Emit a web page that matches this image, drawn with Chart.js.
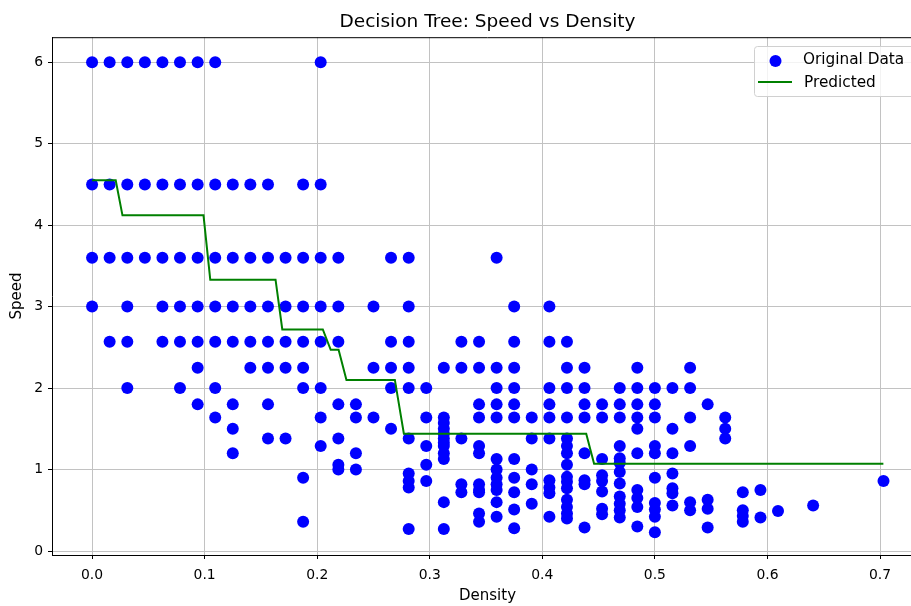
<!DOCTYPE html>
<html>
<head>
<meta charset="utf-8">
<script src="https://cdn.jsdelivr.net/npm/chart.js@4.4.0/dist/chart.umd.min.js"></script>
<style>
  html, body { margin: 0; padding: 0; background: #fff; overflow: hidden; }
</style>
</head>
<body>
<!-- canvas a bit wider than the window: the axes run past the right edge of the picture -->
<canvas id="tree-chart" width="929" height="606"></canvas>
<script>
// density columns and the speeds observed at each of them
const colDensity = [0, 0.0156, 0.0313, 0.0469, 0.0625, 0.0781, 0.0938, 0.1094, 0.125, 0.1406,
  0.1563, 0.1719, 0.1875, 0.2031, 0.2188, 0.2344, 0.25, 0.2656, 0.2813, 0.2969,
  0.3125, 0.3281, 0.3438, 0.3594, 0.375, 0.3906, 0.4063, 0.4219, 0.4375, 0.4531,
  0.4688, 0.4844, 0.5, 0.5156, 0.5313, 0.5469, 0.5625, 0.5781, 0.5938, 0.6094,
  0.6406, 0.7031];
const colSpeed = [
  [6, 4.5, 3.6, 3],
  [6, 4.5, 3.6, 2.57],
  [6, 4.5, 3.6, 3, 2.57, 2],
  [6, 4.5, 3.6],
  [6, 4.5, 3.6, 3, 2.57],
  [6, 4.5, 3.6, 3, 2.57, 2],
  [6, 4.5, 3.6, 3, 2.57, 2.25, 1.8],
  [6, 4.5, 3.6, 3, 2.57, 2, 1.64],
  [4.5, 3.6, 3, 2.57, 1.8, 1.5, 1.2],
  [4.5, 3.6, 3, 2.57, 2.25],
  [4.5, 3.6, 3, 2.57, 2.25, 1.8, 1.38],
  [3.6, 3, 2.57, 2.25, 1.38],
  [4.5, 3.6, 3, 2.57, 2.25, 2, 0.9, 0.36],
  [6, 4.5, 3.6, 3, 2.57, 2, 1.64, 1.29],
  [3.6, 3, 2.57, 1.8, 1.38, 1.06, 1],
  [1.8, 1.64, 1.2, 1],
  [3, 2.25, 1.64],
  [3.6, 2.57, 2.25, 2, 1.5],
  [3.6, 3, 2.57, 2.25, 2, 1.38, 0.95, 0.86, 0.78, 0.27],
  [2, 1.64, 1.29, 1.06, 0.86],
  [2.25, 1.64, 1.57, 1.5, 1.44, 1.38, 1.33, 1.29, 1.2, 1.13, 0.6, 0.27],
  [2.57, 2.25, 1.38, 0.82, 0.72],
  [2.57, 2.25, 1.8, 1.64, 1.29, 1.2, 0.82, 0.75, 0.72, 0.46, 0.36],
  [3.6, 2.25, 2, 1.8, 1.64, 1.13, 1, 0.9, 0.82, 0.75, 0.6, 0.42],
  [3, 2.57, 2.25, 2, 1.8, 1.64, 1.13, 0.9, 0.72, 0.51, 0.28],
  [1.64, 1.38, 1, 0.82, 0.58],
  [3, 2.57, 2, 1.8, 1.64, 1.38, 0.87, 0.78, 0.71, 0.42],
  [2.57, 2.25, 2, 1.64, 1.38, 1.29, 1.2, 1.06, 0.91, 0.85, 0.77, 0.63, 0.54, 0.46, 0.4],
  [2.25, 2, 1.8, 1.64, 1.2, 0.87, 0.82, 0.29],
  [1.8, 1.64, 1.13, 0.93, 0.86, 0.73, 0.52, 0.45],
  [2, 1.8, 1.64, 1.29, 1.14, 1.08, 0.97, 0.83, 0.67, 0.58, 0.5, 0.41],
  [2.25, 2, 1.8, 1.64, 1.5, 1.2, 0.75, 0.65, 0.54, 0.3],
  [2, 1.8, 1.64, 1.29, 1.2, 0.9, 0.59, 0.51, 0.42, 0.23],
  [2, 1.5, 1.2, 0.95, 0.77, 0.71, 0.56],
  [2.25, 2, 1.64, 1.29, 0.6, 0.5],
  [1.8, 0.63, 0.52, 0.29],
  [1.64, 1.5, 1.38],
  [0.72, 0.5, 0.43, 0.36],
  [0.75, 0.41],
  [0.49],
  [0.56],
  [0.86]
];

// decision tree prediction (step line)
const predDensity = [0, 0.021, 0.027, 0.099, 0.105, 0.163, 0.169, 0.205, 0.212, 0.219, 0.226, 0.269, 0.277, 0.439, 0.446, 0.703];
const predSpeed = [4.55, 4.55, 4.12, 4.12, 3.33, 3.33, 2.72, 2.72, 2.47, 2.47, 2.1, 2.1, 1.44, 1.44, 1.07, 1.07];

const xTicks = [0, 0.1, 0.2, 0.3, 0.4, 0.5, 0.6, 0.7];
const yTicks = [0, 1, 2, 3, 4, 5, 6];

const points = [];
colDensity.forEach((d, i) => colSpeed[i].forEach(s => points.push({ x: d, y: s })));
const predicted = predDensity.map((d, i) => ({ x: d, y: predSpeed[i] }));

const FONT = '"DejaVu Sans", sans-serif';

// matplotlib style top spine and legend inside the axes
const frameLegend = {
  id: 'frameLegend',
  afterDraw(chart) {
    const { ctx, chartArea: a } = chart;
    ctx.save();
    ctx.strokeStyle = '#000';
    ctx.lineWidth = 1;
    ctx.beginPath();
    ctx.moveTo(a.left, a.top + 0.5);
    ctx.lineTo(a.right, a.top + 0.5);
    ctx.moveTo(a.right - 0.5, a.top);
    ctx.lineTo(a.right - 0.5, a.bottom);
    ctx.stroke();

    // legend box
    ctx.beginPath();
    ctx.roundRect(754.5, 46.5, 162, 50, 3);
    ctx.fillStyle = 'rgba(255,255,255,0.8)';
    ctx.fill();
    ctx.strokeStyle = '#d0d0d0';
    ctx.stroke();

    ctx.fillStyle = 'blue';
    ctx.beginPath();
    ctx.arc(775.5, 61, 6, 0, Math.PI * 2);
    ctx.fill();

    ctx.strokeStyle = 'green';
    ctx.lineWidth = 2;
    ctx.beginPath();
    ctx.moveTo(758, 82);
    ctx.lineTo(792, 82);
    ctx.stroke();

    ctx.fillStyle = '#000';
    ctx.font = '15.3px ' + FONT;
    ctx.textBaseline = 'middle';
    ctx.textAlign = 'left';
    ctx.fillText('Original Data', 803, 60);
    ctx.fillText('Predicted', 804, 83);
    ctx.restore();
  }
};

new Chart(document.getElementById('tree-chart'), {
  type: 'scatter',
  data: {
    datasets: [
      {
        label: 'Original Data',
        data: points,
        backgroundColor: 'blue',
        borderWidth: 0,
        pointRadius: 6,
        pointHoverRadius: 6,
        order: 1
      },
      {
        type: 'line',
        label: 'Predicted',
        data: predicted,
        borderColor: 'green',
        borderWidth: 2,
        pointRadius: 0,
        fill: false,
        tension: 0,
        order: 0
      }
    ]
  },
  options: {
    responsive: false,
    animation: false,
    layout: { padding: 0 },
    plugins: {
      legend: { display: false },
      tooltip: { enabled: false },
      title: {
        display: true,
        fullSize: false,
        text: 'Decision Tree: Speed vs Density',
        color: '#000',
        font: { family: FONT, size: 18.5, weight: 'normal' },
        padding: { top: 11, bottom: 4 }
      }
    },
    scales: {
      x: {
        type: 'linear',
        min: -0.0356,
        max: 0.7382,
        afterBuildTicks: s => { s.ticks = xTicks.map(v => ({ value: v })); },
        afterFit: s => { s.height = 51; s.paddingLeft = 0; s.paddingRight = 0; },
        grid: { color: '#c2c2c2', lineWidth: 1, tickColor: '#000', tickLength: 4 },
        border: { display: true, color: '#000', width: 1 },
        ticks: {
          color: '#000',
          padding: 8,
          font: { family: FONT, size: 13.9 },
          callback: v => v.toFixed(1)
        },
        title: {
          display: true,
          text: 'Density',
          color: '#000',
          font: { family: FONT, size: 15 },
          padding: { top: 0, bottom: 1 }
        }
      },
      y: {
        type: 'linear',
        min: -0.049,
        max: 6.307,
        afterBuildTicks: s => { s.ticks = yTicks.map(v => ({ value: v })); },
        afterFit: s => { s.width = 52; },
        grid: { color: '#c2c2c2', lineWidth: 1, tickColor: '#000', tickLength: 4 },
        border: { display: true, color: '#000', width: 1 },
        ticks: {
          color: '#000',
          padding: 5,
          font: { family: FONT, size: 13.9 },
          callback: v => String(v)
        },
        title: {
          display: true,
          text: 'Speed',
          color: '#000',
          font: { family: FONT, size: 15 },
          padding: { top: 8, bottom: 0 }
        }
      }
    }
  },
  plugins: [frameLegend]
});
</script>
</body>
</html>
